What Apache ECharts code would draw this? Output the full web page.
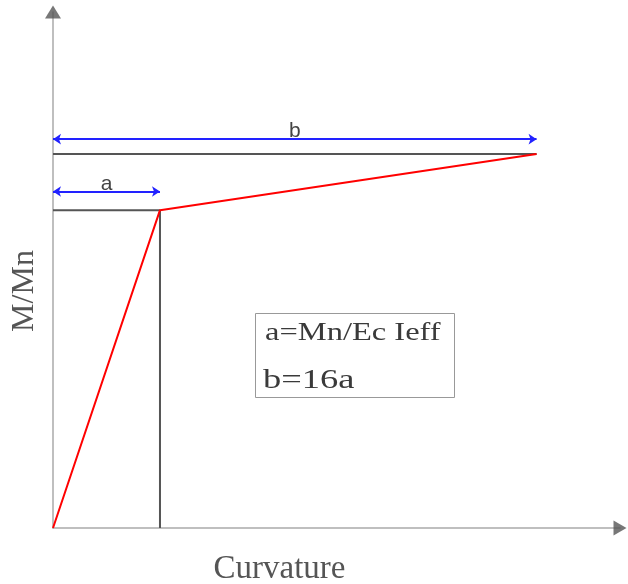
<!DOCTYPE html>
<html>
<head>
<meta charset="utf-8">
<script src="https://cdn.jsdelivr.net/npm/echarts@6/dist/echarts.min.js"></script>
<style>
  html, body { margin: 0; padding: 0; background: #fff; }
  #chart { width: 628px; height: 584px; }
</style>
</head>
<body>
<div id="chart"></div>
<script>
// Bilinear moment-curvature model (curvature in units of the yield curvature)
const xRange = [0, 5.3];
const yRange = [0, 1.38];
const bilinearCurve = [[0, 0], [1, 0.85], [4.52, 1.0]];
const yieldGuide = [[0, 0.85], [1, 0.85], [1, 0]];
const ultimateGuide = [[0, 1.0], [4.52, 1.0]];
const dimensionNames = ['a', 'b'];
const dimensionLines = [
  [[0, 0.9], [1, 0.9]],
  [[0, 1.04], [4.52, 1.04]]
];
const noteLines = ['a=Mn/Ec Ieff', 'b=16a'];
const axisTitles = { x: 'Curvature', y: 'M/Mn' };

const chart = echarts.init(document.getElementById('chart'));

const serif = '"Liberation Serif", "DejaVu Serif", serif';
const sans = '"Liberation Sans", Arial, sans-serif';

chart.setOption({
  animation: false,
  backgroundColor: '#fff',
  grid: { left: 53, right: 8, top: 12, bottom: 56, outerBoundsMode: 'none', containLabel: false },
  xAxis: {
    type: 'value', min: xRange[0], max: xRange[1],
    name: axisTitles.x, nameLocation: 'middle', nameGap: 25,
    nameTextStyle: { fontFamily: serif, fontSize: 33, color: '#555', padding: [0, 114, 0, 0] },
    axisLine: { show: true, lineStyle: { color: '#aaa', width: 1.5 } },
    axisTick: { show: false }, axisLabel: { show: false }, splitLine: { show: false }
  },
  yAxis: {
    type: 'value', min: yRange[0], max: yRange[1],
    name: axisTitles.y, nameLocation: 'middle', nameGap: 12,
    nameTextStyle: { fontFamily: serif, fontSize: 32, color: '#555', padding: [0, 42, 0, 0] },
    axisLine: { show: true, lineStyle: { color: '#aaa', width: 1.5 } },
    axisTick: { show: false }, axisLabel: { show: false }, splitLine: { show: false }
  },
  series: [
    {
      type: 'line', data: yieldGuide, symbol: 'none',
      lineStyle: { color: '#555', width: 2 }, z: 2
    },
    {
      type: 'line', data: ultimateGuide, symbol: 'none',
      lineStyle: { color: '#555', width: 2 }, z: 2
    },
    {
      type: 'line', data: bilinearCurve, symbol: 'none',
      lineStyle: { color: '#ff0000', width: 2 }, z: 3
    },
    {
      type: 'lines', coordinateSystem: 'cartesian2d',
      symbol: ['arrow', 'arrow'], symbolSize: 8,
      lineStyle: { color: '#2222ff', width: 2, opacity: 1 },
      label: {
        show: true, position: 'middle', distance: -3,
        fontFamily: sans, fontSize: 21, color: '#444',
        formatter: p => p.name
      },
      data: dimensionLines.map((coords, i) => ({ name: dimensionNames[i], coords })),
      z: 4
    },
    {
      // axis arrow heads
      type: 'scatter', clip: false, silent: true,
      itemStyle: { color: '#555' },
      data: [
        { value: [xRange[0], yRange[1]], symbol: 'triangle', symbolSize: [16, 13] },
        { value: [xRange[1], yRange[0]], symbol: 'triangle', symbolSize: [15, 13], symbolRotate: -90 }
      ],
      z: 5
    }
  ],
  graphic: [
    {
      type: 'rect', left: 255, top: 313,
      shape: { width: 199, height: 84 },
      style: { fill: '#fff', stroke: '#999', lineWidth: 1 }
    },
    {
      type: 'text', x: 265, y: 333, scaleX: 1.3,
      style: { text: noteLines[0], font: '25px ' + serif, fill: '#3a3a3a', verticalAlign: 'middle' }
    },
    {
      type: 'text', x: 263, y: 381, scaleX: 1.35,
      style: { text: noteLines[1], font: '27px ' + serif, fill: '#3a3a3a', verticalAlign: 'middle' }
    }
  ]
});
</script>
</body>
</html>
